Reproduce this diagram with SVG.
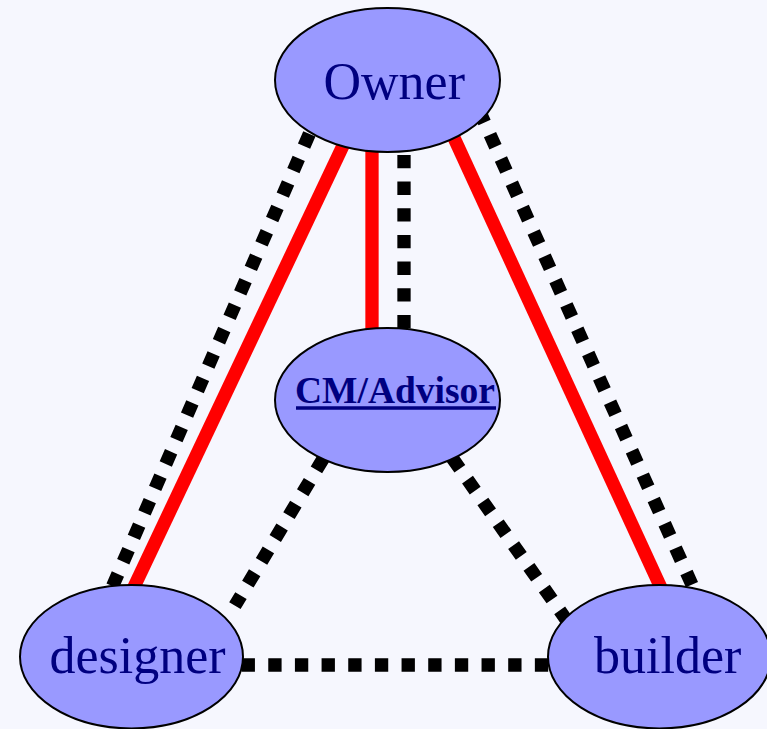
<svg xmlns="http://www.w3.org/2000/svg" width="767" height="729" viewBox="0 0 767 729">
  <style>
    .bg { fill: #f6f7fe; }
    .node { fill: #9999ff; stroke: #000000; stroke-width: 2; }
    .label { font-family: "Liberation Serif", "Times New Roman", serif; font-size: 52px; fill: #000080; }
    .label-cm { font-family: "Liberation Serif", "Times New Roman", serif; font-size: 37.5px; font-weight: bold; fill: #000080; }
    .underline { stroke: #000080; stroke-width: 3.3; }
    .contract { stroke: #ff0000; stroke-width: 13.3; fill: none; }
    .comm { stroke: #000000; stroke-width: 13.3; stroke-dasharray: 13.33 13.33; fill: none; }
  </style>
  <rect class="bg" x="0" y="0" width="767" height="729"/>

  <g id="connectors">
    <!-- contract links (solid red) -->
    <line class="contract" x1="359.9" y1="110" x2="123.1" y2="610"/>
    <line class="contract" x1="372" y1="100" x2="372" y2="360"/>
    <line class="contract" x1="436.6" y1="100" x2="675.8" y2="620"/>
    <!-- communication links (dotted black) -->
    <line class="comm" x1="320" y1="109.5" x2="106.6" y2="600"/>
    <line class="comm" x1="404" y1="128.3" x2="404" y2="335"/>
    <line class="comm" x1="479.1" y1="110.3" x2="702" y2="607"/>
    <line class="comm" x1="337" y1="435.6" x2="234.9" y2="605.7"/>
    <line class="comm" x1="436.8" y1="436.1" x2="573.2" y2="629.6"/>
    <line class="comm" x1="241.6" y1="665" x2="560" y2="665"/>
  </g>

  <g id="owner">
    <ellipse class="node" cx="387.5" cy="80" rx="112.5" ry="72"/>
    <text class="label" x="323.5" y="99">Owner</text>
  </g>
  <g id="cm-advisor">
    <ellipse class="node" cx="387.5" cy="400" rx="112.5" ry="72"/>
    <text class="label-cm" x="295" y="403">CM/Advisor</text>
    <line class="underline" x1="296" y1="408" x2="496" y2="408"/>
  </g>
  <g id="designer">
    <ellipse class="node" cx="131.5" cy="656.7" rx="111.5" ry="71.7"/>
    <text class="label" x="49.5" y="673">designer</text>
  </g>
  <g id="builder">
    <ellipse class="node" cx="659.5" cy="656.7" rx="111.5" ry="71.7"/>
    <text class="label" x="594" y="673">builder</text>
  </g>
</svg>
